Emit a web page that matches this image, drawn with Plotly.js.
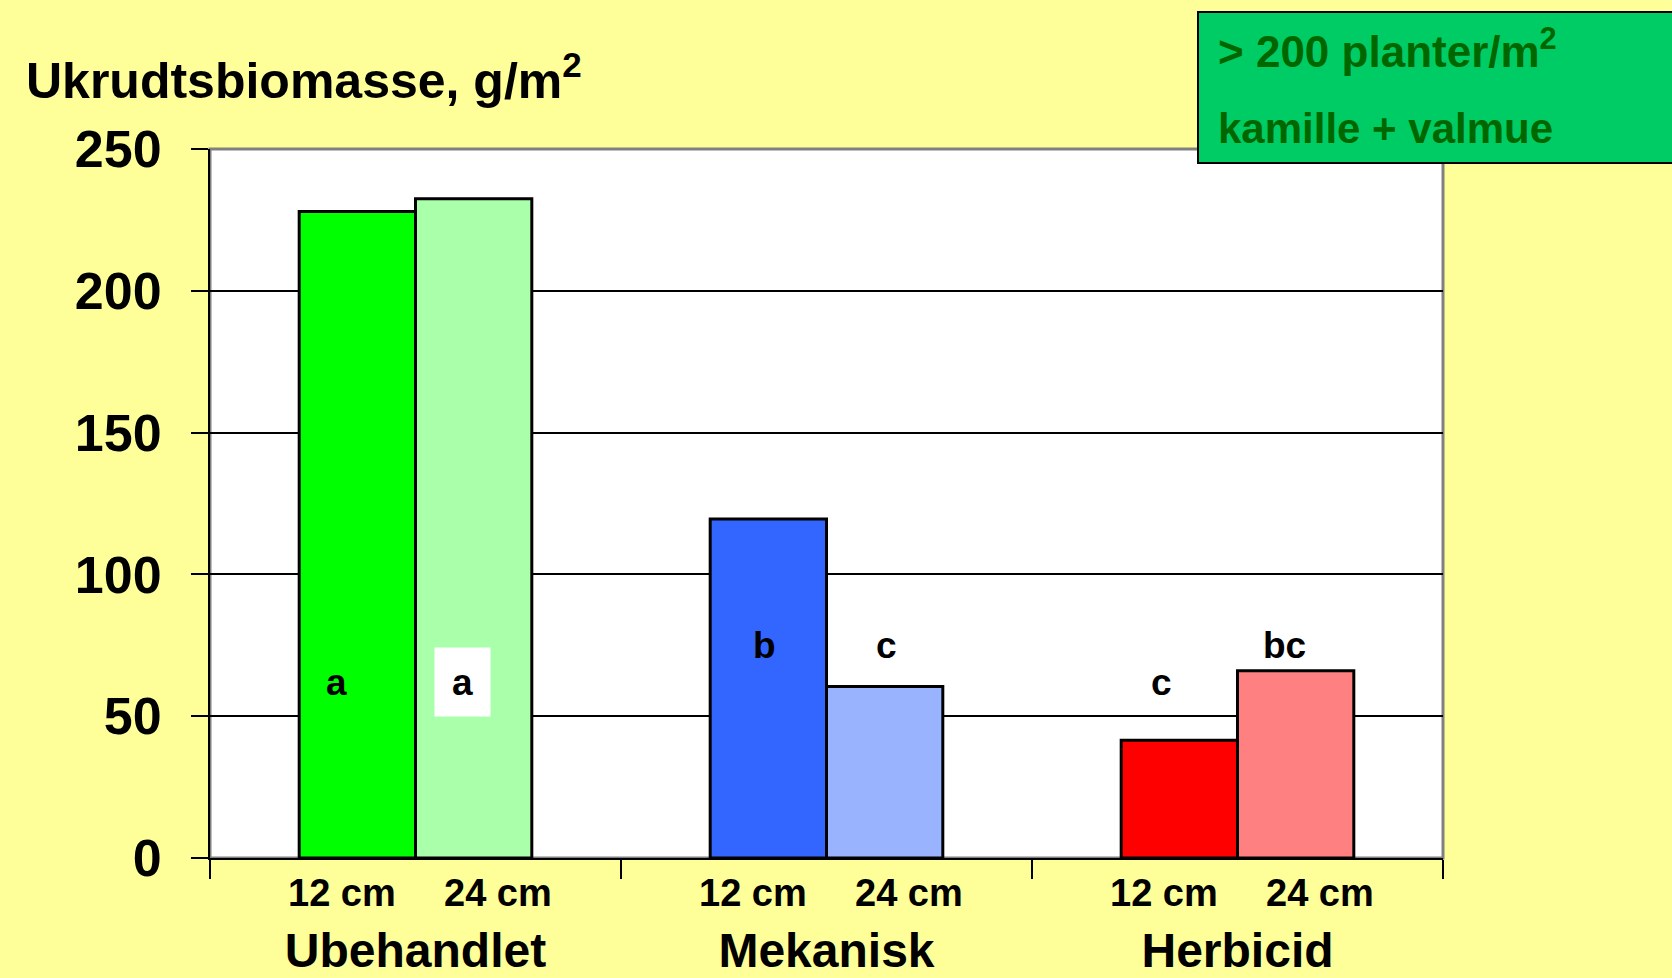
<!DOCTYPE html>
<html>
<head>
<meta charset="utf-8">
<script src="https://cdn.plot.ly/plotly-3.0.1.min.js"></script>
<style>html,body{margin:0;padding:0;background:#FFFF99;}#chart{width:1672px;height:978px;}</style>
</head>
<body>
<div id="chart"></div>
<script>
// ---- data ----
const groups = ['Ubehandlet', 'Mekanisk', 'Herbicid'];
const heights = ['12 cm', '24 cm'];
const biomass12 = [228, 119.5, 41.5];
const biomass24 = [232.5, 60.5, 66];
const letters12 = ['a', 'b', 'c'];
const letters24 = ['a', 'c', 'bc'];
const colors12 = ['#00FF00', '#3366FF', '#FF0000'];
const colors24 = ['#AAFFAA', '#99B3FF', '#FF8080'];
const yTitle = 'Ukrudtsbiomasse, g/m<sup>2</sup>';
const boxLine1 = '> 200 planter/m<sup>2</sup>';
const boxLine2 = 'kamille + valmue';

const FONT = 'Liberation Sans, Arial, sans-serif';
const bargap = 0.434;
const half = (1 - bargap) / 4;

const traces = [
  {type: 'bar', name: heights[0], x: groups, y: biomass12,
   marker: {color: colors12, line: {color: '#000', width: 3}}, hoverinfo: 'none'},
  {type: 'bar', name: heights[1], x: groups, y: biomass24,
   marker: {color: colors24, line: {color: '#000', width: 3}}, hoverinfo: 'none'}
];

const annotations = [];
// sub-labels under each bar
groups.forEach((g, i) => {
  annotations.push({xref: 'x', yref: 'paper', x: i - 0.18, y: 0, yanchor: 'middle', yshift: -35,
    text: heights[0], showarrow: false, font: {family: FONT, size: 38, color: '#000', weight: 'bold'}});
  annotations.push({xref: 'x', yref: 'paper', x: i + 0.2, y: 0, yanchor: 'middle', yshift: -35,
    text: heights[1], showarrow: false, font: {family: FONT, size: 38, color: '#000', weight: 'bold'}});
});
// significance letters
const letterLevel12 = [62, 75, 62];
const letterLevel24 = [62, 75, 75];
const nudge12 = [-21, -4, -18];
const nudge24 = [-11, 2, -11];
groups.forEach((g, i) => {
  annotations.push({xref: 'x', yref: 'y', x: i - half, y: letterLevel12[i], xshift: nudge12[i],
    text: letters12[i], showarrow: false, font: {family: FONT, size: 37, color: '#000', weight: 'bold'}});
  const a = {xref: 'x', yref: 'y', x: i + half, y: letterLevel24[i], xshift: nudge24[i],
    text: letters24[i], showarrow: false, font: {family: FONT, size: 37, color: '#000', weight: 'bold'}};
  if (i === 0) { a.bgcolor = '#FFFFFF'; a.width = 55; a.height = 68; a.borderpad = 0; }
  annotations.push(a);
});
// y-axis title (top-left)
annotations.push({xref: 'paper', yref: 'paper', x: -186/1233, y: (858 - 77) / 709, xanchor: 'left', yanchor: 'middle',
  text: yTitle, showarrow: false, font: {family: FONT, size: 50, color: '#000', weight: 'bold'}});
// green info box text
annotations.push({xref: 'paper', yref: 'paper', x: (1216 - 210) / 1233, y: (858 - 48) / 709, xanchor: 'left', yanchor: 'middle',
  text: boxLine1, showarrow: false, font: {family: FONT, size: 44, color: '#006600', weight: 'bold'}});
annotations.push({xref: 'paper', yref: 'paper', x: (1216 - 210) / 1233, y: (858 - 128) / 709, xanchor: 'left', yanchor: 'middle',
  text: boxLine2, showarrow: false, font: {family: FONT, size: 42, color: '#006600', weight: 'bold'}});

const shapes = [
  // gray plot frame (top/right)
  {type: 'rect', xref: 'paper', yref: 'paper', x0: 0, x1: 1, y0: 0, y1: 1, layer: 'below',
   line: {color: '#808080', width: 3}},
  // green info box
  {type: 'rect', xref: 'paper', yref: 'paper', x0: (1198 - 210) / 1233, x1: (1700 - 210) / 1233,
   y0: (858 - 163) / 709, y1: (858 - 12) / 709, layer: 'above',
   fillcolor: '#00CC66', line: {color: '#000', width: 2}}
];

const layout = {
  width: 1672, height: 978,
  margin: {l: 210, r: 229, t: 149, b: 120, pad: 0},
  paper_bgcolor: '#FFFF99', plot_bgcolor: '#FFFFFF',
  barmode: 'group', bargap: bargap, bargroupgap: 0,
  showlegend: false,
  font: {family: FONT, color: '#000'},
  xaxis: {type: 'category', tickson: 'boundaries', ticks: 'outside', ticklen: 19, tickwidth: 2, tickcolor: '#000',
    showline: true, linecolor: '#000', linewidth: 2, showgrid: false, zeroline: false,
    tickfont: {family: FONT, size: 48, color: '#000', weight: 'bold'}, ticklabelstandoff: 49, fixedrange: true},
  yaxis: {range: [0, 250], dtick: 50, tick0: 0, ticks: 'outside', ticklen: 17, tickwidth: 2, tickcolor: '#000',
    showline: true, linecolor: '#000', linewidth: 2, showgrid: true, gridcolor: '#000', gridwidth: 2, zeroline: false,
    tickfont: {family: FONT, size: 52, color: '#000', weight: 'bold'}, ticklabelstandoff: 19, fixedrange: true},
  annotations: annotations,
  shapes: shapes
};

Plotly.newPlot('chart', traces, layout, {displayModeBar: false, staticPlot: true});
</script>
</body>
</html>
